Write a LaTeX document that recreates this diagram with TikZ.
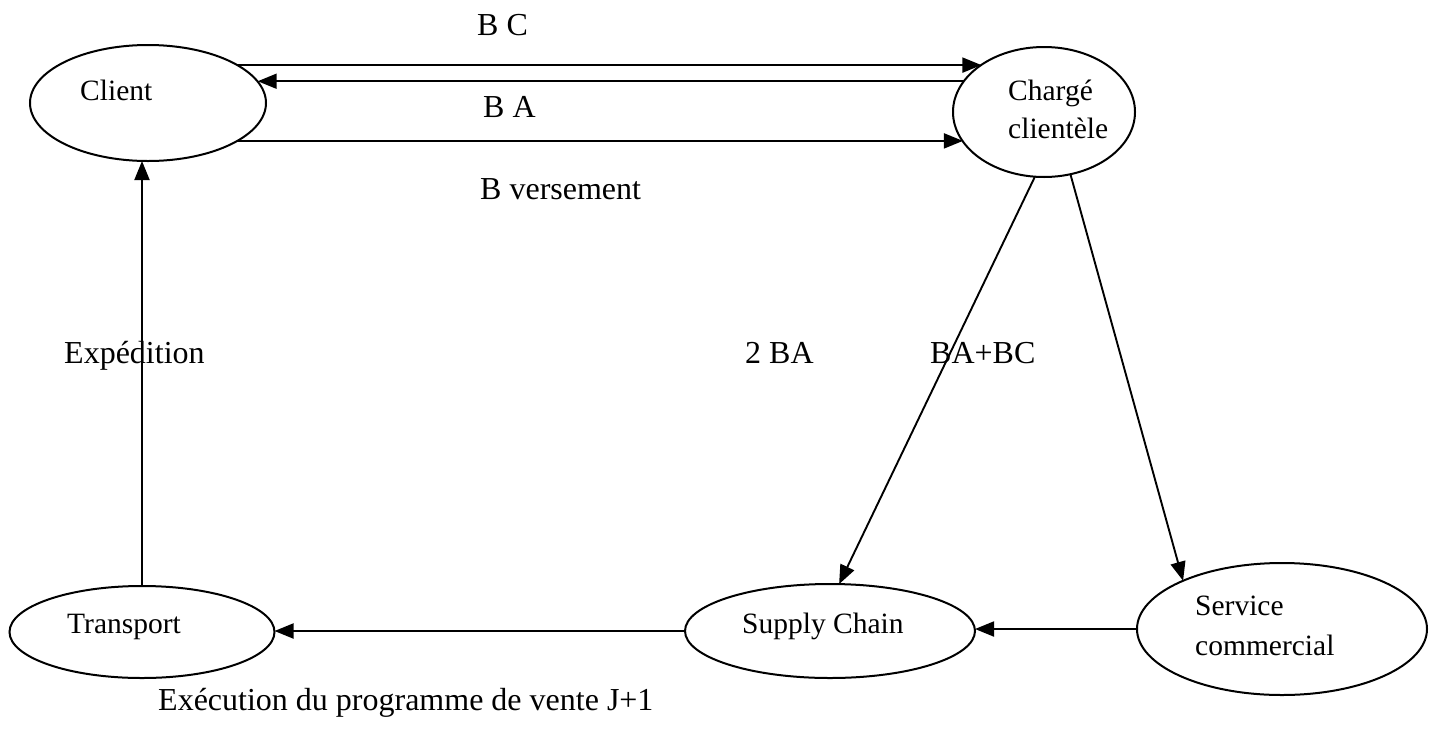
\documentclass[tikz,border=0pt]{standalone}
\usepackage{fontspec}
\setmainfont{Liberation Serif}
\usetikzlibrary{arrows.meta,shapes.geometric}
\newcommand\nodetxt{\fontsize{29.5}{36}\selectfont}
\newcommand\labtxt{\fontsize{32}{38}\selectfont}
\begin{document}
\begin{tikzpicture}[x=1pt,y=-1pt,
  ell/.style={draw, ellipse, line width=2pt, inner sep=0pt, outer sep=0pt},
  arr/.style={line width=1.9pt, -{Triangle[length=19pt,width=15pt]}},
  ntext/.style={anchor=base west, inner sep=0pt, font=\nodetxt},
  ltext/.style={anchor=base west, inner sep=0pt, font=\labtxt}]
\useasboundingbox[fill=white] (0,0) rectangle (1432,734);
% ellipses
\node[ell, minimum width=236pt, minimum height=116pt] (cl) at (148,103) {};
\node[ell, minimum width=182pt, minimum height=130pt] (ch) at (1044,112) {};
\node[ell, minimum width=265pt, minimum height=92pt] (tr) at (142,632) {};
\node[ell, minimum width=290pt, minimum height=94pt] (sc) at (830,631) {};
\node[ell, minimum width=290pt, minimum height=132pt] (sv) at (1282,629) {};
% texts inside
\node[ntext] (tcl) at (80,100) {Client};
\node[ntext] (tch1) at (1008,100) {Chargé};
\node[ntext] (tch2) at (1008,138) {clientèle};
\node[ntext] (ttr) at (67,633) {Transport};
\node[ntext] (tsc) at (742,633) {Supply Chain};
\node[ntext] (tsv1) at (1195,615) {Service};
\node[ntext] (tsv2) at (1195,655) {commercial};
% labels
\node[ltext] (lbc) at (477,35) {B C};
\node[ltext] (lba) at (483,117) {B A};
\node[ltext] (lbv) at (480,199) {B versement};
\node[ltext] (lexp) at (64,363) {Expédition};
\node[ltext] (l2ba) at (745,363) {2 BA};
\node[ltext] (lbabc) at (930,363) {BA+BC};
\node[ltext] (lexe) at (158,710) {Exécution du programme de vente J+1};
% connectors
\draw[arr] (cl.23) -- (cl.23 -| ch.143);
\draw[arr] (ch.159) -- (ch.159 -| cl.11);
\draw[arr] (cl.-23) -- (cl.-23 -| ch.200);
\draw[arr] (ch.262) -- (sc.79);
\draw[arr] (ch.293) -- (sv.154);
\draw[arr] (sv.west) -- (sv.west -| sc.east);
\draw[arr] (sc.west) -- (sc.west -| tr.east);
\draw[arr] (tr.north) -- (tr.north |- cl.south);
\end{tikzpicture}
\end{document}
